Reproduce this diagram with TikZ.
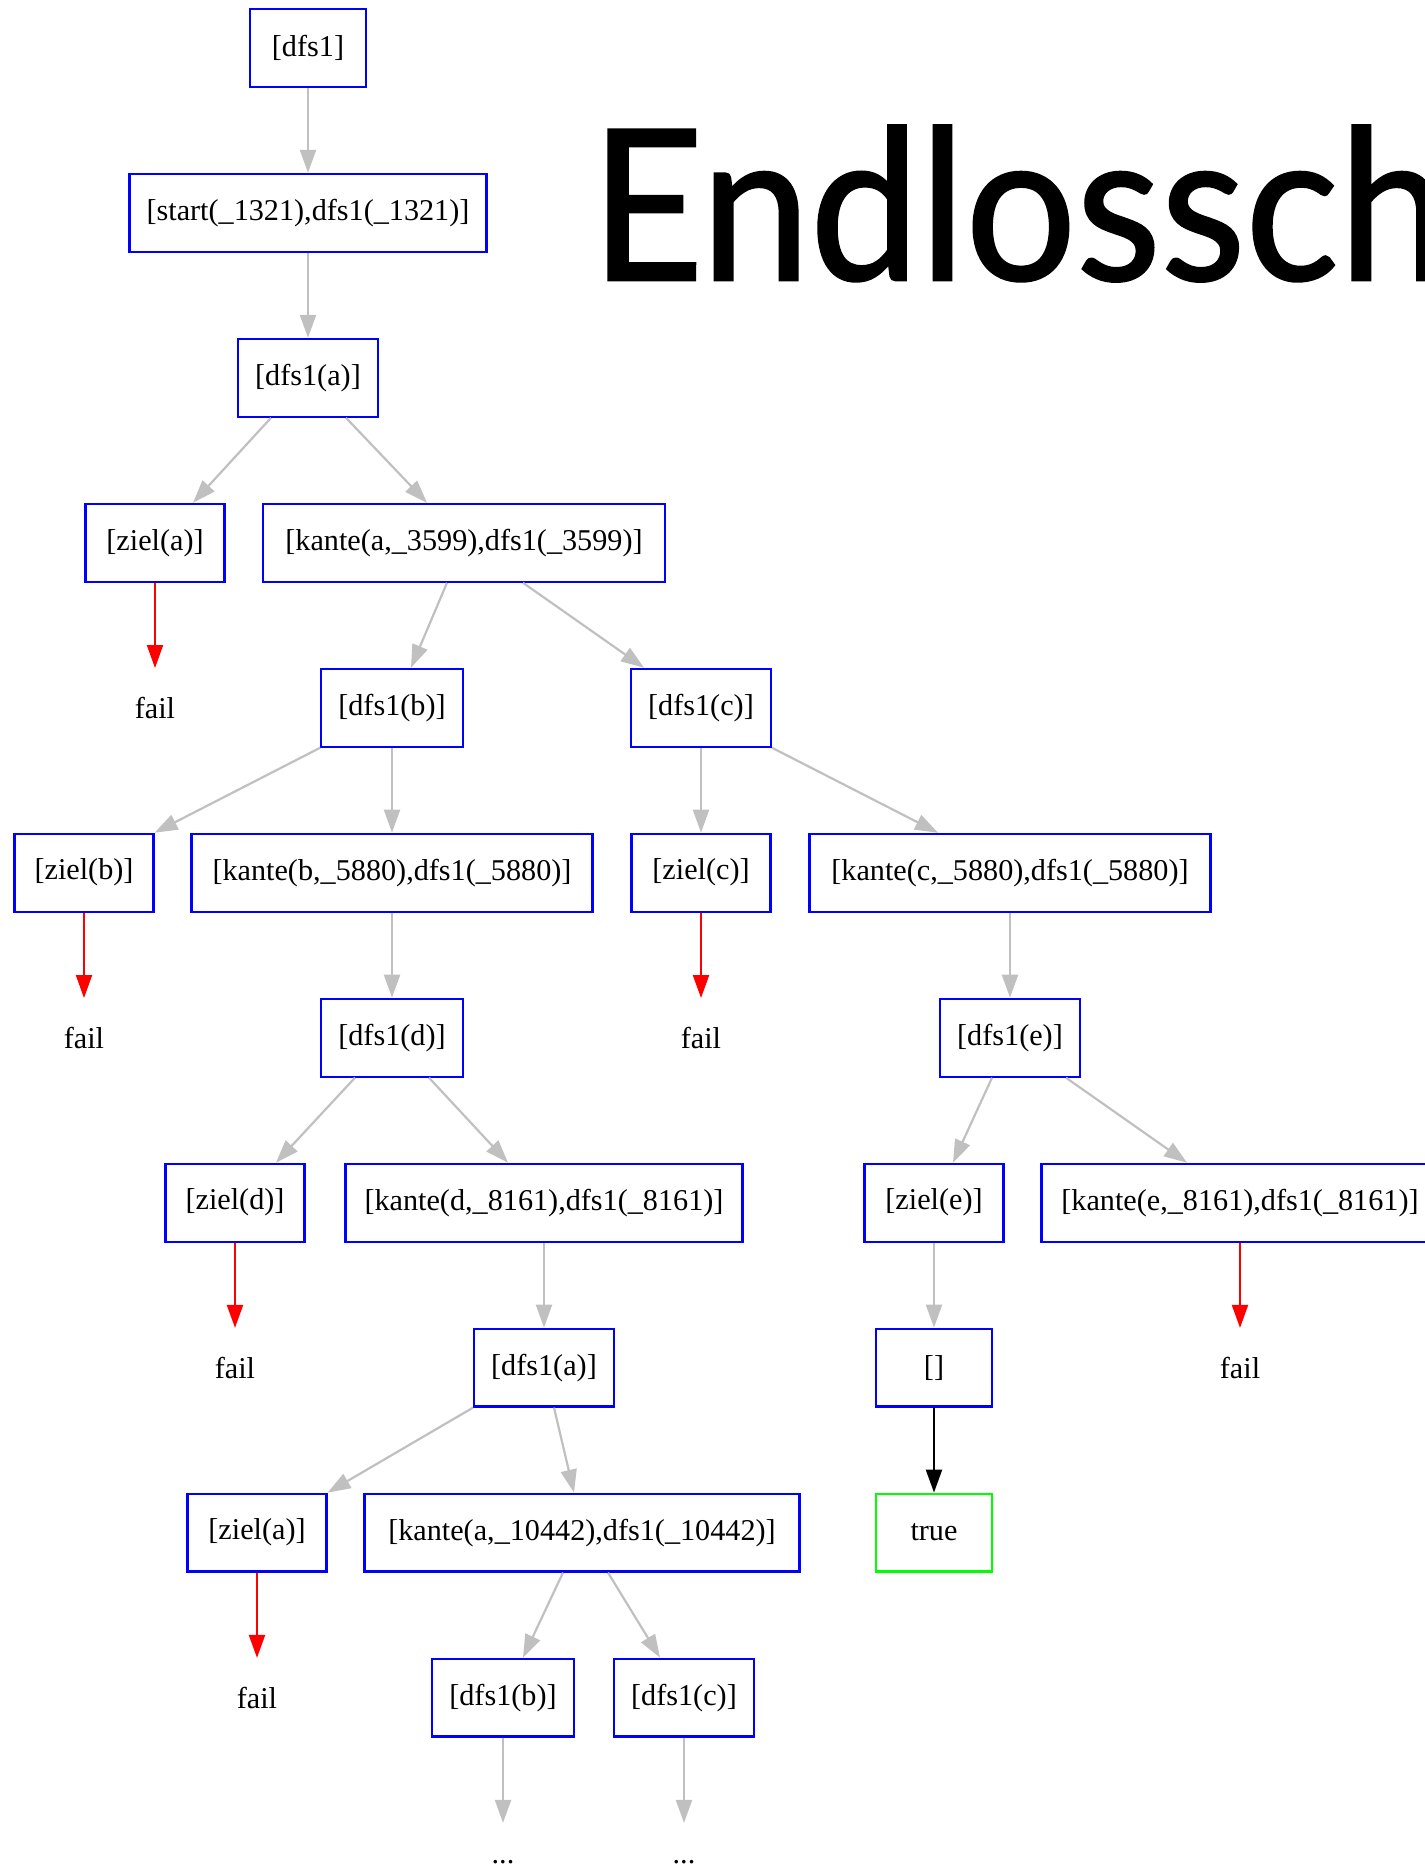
\documentclass[tikz,border=0pt]{standalone}
\usepackage{fontspec}
\setmainfont{Liberation Serif}
\newfontfamily\titlefont[FakeStretch=0.93,FakeBold=1.2]{Lato}
\usepackage{xcolor}
\usetikzlibrary{arrows.meta,calc}

\definecolor{edgegray}{HTML}{C0C0C0}

\begin{document}
\begin{tikzpicture}[x=0.5pt, y=-0.5pt, >={Triangle[length=11.5pt,width=8pt]}, thick]
        \tikzset{
            goal/.style={draw=blue, line width=1.1pt, rectangle, minimum height=38.9pt, minimum width=58pt, inner xsep=8.5pt, font=\fontsize{15.1}{18}\selectfont},
            zielbox/.style={goal, minimum width=69.5pt},
            kantebox/.style={goal, minimum width=#1},
            okgoal/.style={goal, draw=green},
            leaf/.style={rectangle, minimum height=38.9pt, minimum width=58pt, inner sep=0pt, font=\fontsize{15.1}{18}\selectfont},
            link/.style={draw=edgegray, ->, line width=1.1pt},
            faillink/.style={link, draw=red},
            truelink/.style={link, draw=black}
        }
        \useasboundingbox (0,0) rectangle (1425,1875);

        % Title
        \node[font=\titlefont\fontsize{105}{125}\selectfont, anchor=base west, inner sep=0pt] (title) at (590,280) {Endlossch};

        % Top chain
        \node [goal] (dfs) at (308,47.8) {[dfs1]};
        \node [goal] (start) at (308,212.8) {[start(\_1321),dfs1(\_1321)]};
        \node [goal] (dfsa) at (308,377.8) {[dfs1(a)]};

        % Level a
        \node [zielbox] (ziela) at (155,542.8) {[ziel(a)]};
        \node [kantebox=201pt] (kantea) at (464,542.8) {[kante(a,\_3599),dfs1(\_3599)]};
        \node [leaf] (faila) at (155,707.7) {fail};
        \node [goal] (dfsb) at (392,707.7) {[dfs1(b)]};
        \node [goal] (dfsc) at (701,707.7) {[dfs1(c)]};

        % Level b / c
        \node [zielbox] (zielb) at (84,872.7) {[ziel(b)]};
        \node [kantebox=200.5pt] (kanteb) at (392,872.7) {[kante(b,\_5880),dfs1(\_5880)]};
        \node [zielbox] (zielc) at (701,872.7) {[ziel(c)]};
        \node [kantebox=200.5pt] (kantec) at (1010,872.7) {[kante(c,\_5880),dfs1(\_5880)]};
        \node [leaf] (failb) at (84,1037.7) {fail};
        \node [goal] (dfsd) at (392,1037.7) {[dfs1(d)]};
        \node [leaf] (failc) at (701,1037.7) {fail};
        \node [goal] (dfse) at (1010,1037.7) {[dfs1(e)]};

        % Level d / e
        \node [zielbox] (zield) at (235,1202.7) {[ziel(d)]};
        \node [kantebox=198.5pt] (kanted) at (544,1202.7) {[kante(d,\_8161),dfs1(\_8161)]};
        \node [zielbox] (ziele) at (934,1202.7) {[ziel(e)]};
        \node [kantebox=198.5pt] (kantee) at (1240,1202.7) {[kante(e,\_8161),dfs1(\_8161)]};
        \node [leaf] (faild) at (235,1367.6) {fail};
        \node [goal] (dfsa2) at (544,1367.6) {[dfs1(a)]};
        \node [goal] (leer) at (934,1367.6) {[]};
        \node [leaf] (faile) at (1240,1367.6) {fail};

        % Second round on a
        \node [zielbox] (ziela2) at (257,1532.6) {[ziel(a)]};
        \node [kantebox=217.5pt] (kantea2) at (582,1532.6) {[kante(a,\_10442),dfs1(\_10442)]};
        \node [okgoal] (ok) at (934,1532.6) {true};
        \node [leaf] (faila2) at (257,1697.6) {fail};
        \node [goal] (dfsb2) at (503,1697.6) {[dfs1(b)]};
        \node [goal] (dfsc2) at (684,1697.6) {[dfs1(c)]};
        \node [leaf] (moreb) at (503,1862.6) {...};
        \node [leaf] (morec) at (684,1862.6) {...};

        % Connections
        \draw [link] (dfs.south) -- (start.north);
        \draw [link] (start.south) -- (dfsa.north);
        \draw [link] ($(dfsa.south)+(-37,0)$) -- ($(ziela.north)+(38,0)$);
        \draw [link] ($(dfsa.south)+(38,0)$) -- ($(kantea.north)+(-37,0)$);
        \draw [faillink] (ziela.south) -- (faila.north);
        \draw [link] ($(kantea.south)+(-17,0)$) -- ($(dfsb.north)+(19,0)$);
        \draw [link] ($(kantea.south)+(59,0)$) -- ($(dfsc.north)+(-57,0)$);

        \draw [link] (dfsb.south west) -- (zielb.north east);
        \draw [link] (dfsb.south) -- (kanteb.north);
        \draw [link] (dfsc.south) -- (zielc.north);
        \draw [link] (dfsc.south east) -- ($(kantec.north)+(-72,0)$);
        \draw [faillink] (zielb.south) -- (failb.north);
        \draw [link] (kanteb.south) -- (dfsd.north);
        \draw [faillink] (zielc.south) -- (failc.north);
        \draw [link] (kantec.south) -- (dfse.north);

        \draw [link] ($(dfsd.south)+(-37,0)$) -- ($(zield.north)+(41,0)$);
        \draw [link] ($(dfsd.south)+(37,0)$) -- ($(kanted.north)+(-36,0)$);
        \draw [link] ($(dfse.south)+(-18,0)$) -- ($(ziele.north)+(19,0)$);
        \draw [link] ($(dfse.south)+(56,0)$) -- ($(kantee.north)+(-53,0)$);
        \draw [faillink] (zield.south) -- (faild.north);
        \draw [link] (kanted.south) -- (dfsa2.north);
        \draw [link] (ziele.south) -- (leer.north);
        \draw [faillink] (kantee.south) -- (faile.north);

        \draw [link] (dfsa2.south west) -- (ziela2.north east);
        \draw [link] ($(dfsa2.south)+(10,0)$) -- ($(kantea2.north)+(-8,0)$);
        \draw [truelink] (leer.south) -- (ok.north);
        \draw [faillink] (ziela2.south) -- (faila2.north);
        \draw [link] ($(kantea2.south)+(-19,0)$) -- ($(dfsb2.north)+(20,0)$);
        \draw [link] ($(kantea2.south)+(26,0)$) -- ($(dfsc2.north)+(-24,0)$);
        \draw [link] (dfsb2.south) -- (moreb.north);
        \draw [link] (dfsc2.south) -- (morec.north);
\end{tikzpicture}
\end{document}
